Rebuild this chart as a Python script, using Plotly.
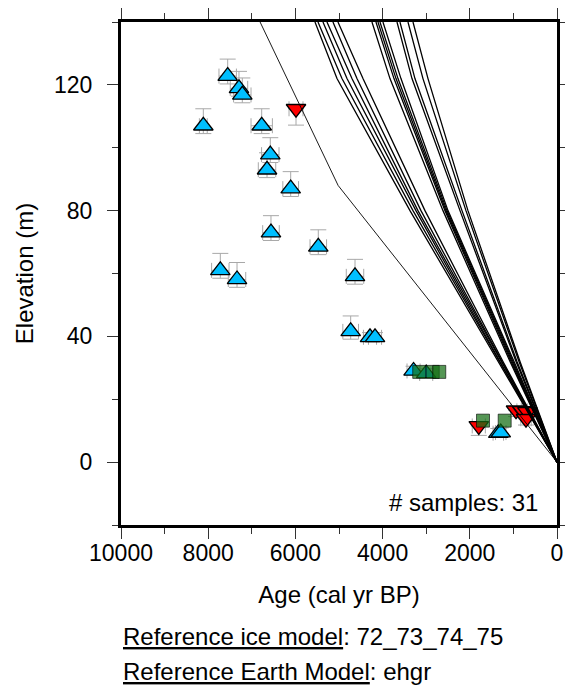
import plotly.graph_objects as go

# sea-level index points
blue_age = [7553, 7294, 7218, 8112, 6773, 6576, 6651, 6108, 6560, 5475,
            7722, 7339, 4633, 4732, 4289, 4174, 3290, 3000, 1346, 1290]
blue_elev = [122.8, 118.9, 116.8, 107.0, 107.0, 97.8, 93.0, 87.0, 73.0, 68.5,
             61.0, 58.1, 59.1, 41.6, 39.7, 39.7, 29.0, 28.2, 9.2, 9.4]
blue_err_up = [5.4, 5.4, 5.4, 5.4, 5.4, 5.4, 5.4, 5.4, 5.4, 5.4,
               5.4, 5.4, 5.4, 4.9, 1.5, 1.5, 1.5, 1.5, 1.5, 1.5]
blue_err_down = [2.5, 2.5, 2.5, 2.5, 2.5, 2.5, 2.5, 2.5, 2.5, 2.5,
                 2.5, 2.5, 2.5, 2.5, 1.0, 1.0, 1.0, 1.0, 1.0, 1.0]
blue_age_err = [200, 200, 200, 90, 245, 200, 200, 180, 190, 190,
                200, 200, 200, 180, 150, 150, 150, 150, 120, 120]

red_age = [5986, 1794, 940, 800, 680, 711]
red_elev = [112.4, 11.5, 16.5, 16.3, 16.0, 13.8]
red_err_down = [5.2, 3.0, 2.0, 2.0, 2.0, 2.0]
red_age_err = [160, 150, 120, 120, 120, 120]

green_age = [3160, 2850, 2700, 1697, 1200]
green_elev = [28.7, 28.7, 28.7, 13.2, 13.2]

# predicted relative sea-level curves
curve_elev = [140, 122, 80, 32, 0]
curve_ages = [
    [5551, 5046, 3372, 1353, 0],
    [5482, 4932, 3303, 1330, 0],
    [5368, 4817, 3235, 1308, 0],
    [5276, 4703, 3189, 1285, 0],
    [5139, 4588, 3120, 1262, 0],
    [5024, 4450, 3028, 1239, 0],
    [4244, 3831, 2615, 1078, 0],
    [4152, 3739, 2569, 1055, 0],
    [4106, 3693, 2546, 1032, 0],
    [4060, 3647, 2523, 1009, 0],
    [3992, 3579, 2500, 986, 0],
    [3670, 3326, 2225, 940, 0],
    [3602, 3258, 2179, 918, 0],
    [3418, 3074, 2088, 872, 0],
    [3303, 2959, 2042, 849, 0],
]
ref_elev = [140, 88, 0]
ref_age = [6810, 5020, 0]

n_samples = len(blue_age) + len(red_age) + len(green_age)

FONT = "Liberation Sans, Arial, Helvetica, sans-serif"
GRAY = "#a8a8a8"

fig = go.Figure()

fig.add_trace(go.Scatter(
    x=blue_age, y=blue_elev, mode="markers",
    marker=dict(symbol="triangle-up", size=17, color="#00bfff",
                line=dict(color="black", width=1.3)),
    error_y=dict(type="data", array=blue_err_up, arrayminus=blue_err_down,
                 color=GRAY, thickness=1, width=8),
    error_x=dict(type="data", array=blue_age_err, color=GRAY, thickness=1, width=7.5),
))
fig.add_trace(go.Scatter(
    x=red_age, y=red_elev, mode="markers",
    marker=dict(symbol="triangle-down", size=17, color="#ff0000",
                line=dict(color="black", width=1.3)),
    error_y=dict(type="data", array=[0] * len(red_age), arrayminus=red_err_down,
                 color=GRAY, thickness=1, width=8),
    error_x=dict(type="data", array=red_age_err, color=GRAY, thickness=1, width=7.5),
))
fig.add_trace(go.Scatter(
    x=green_age, y=green_elev, mode="markers",
    marker=dict(symbol="square", size=13, color="rgba(20,110,20,0.72)",
                line=dict(color="rgba(0,0,0,0.6)", width=1)),
))

for ages in curve_ages:
    fig.add_trace(go.Scatter(x=ages, y=curve_elev, mode="lines",
                             line=dict(color="black", width=1.3)))
fig.add_trace(go.Scatter(x=ref_age, y=ref_elev, mode="lines",
                         line=dict(color="black", width=0.9)))

axis_common = dict(
    showline=True, linewidth=3, linecolor="black", mirror="ticks",
    ticks="outside", ticklen=11, tickwidth=1.3, tickcolor="#333",
    showgrid=False, zeroline=False, automargin=False, tickformat="d",
    tickfont=dict(family=FONT, size=23, color="black"),
)

fig.update_xaxes(
    range=[10000, 0], dtick=2000, tick0=0, ticklabelstandoff=-6,
    minor=dict(dtick=1000, ticks="outside", ticklen=6, tickwidth=1.3, tickcolor="#333"),
    title=dict(text="Age (cal yr BP)", font=dict(family=FONT, size=24, color="black"),
               standoff=22),
    **axis_common,
)
fig.update_yaxes(
    range=[-20, 140], dtick=40, tick0=0, ticklabelstandoff=10,
    minor=dict(dtick=20, ticks="outside", ticklen=6, tickwidth=1.3, tickcolor="#333"),
    title=dict(text="Elevation (m)", font=dict(family=FONT, size=24, color="black"),
               standoff=14),
    **axis_common,
)

fig.add_annotation(
    x=0.961, y=-13, xref="paper", yref="y", xanchor="right", yanchor="middle",
    text=f"# samples: {n_samples}", showarrow=False,
    font=dict(family=FONT, size=24, color="black"),
)
fig.add_annotation(
    x=0, y=-0.222, xref="paper", yref="paper", xanchor="left", yanchor="middle",
    text="<u>Reference ice model</u>: 72_73_74_75", showarrow=False,
    font=dict(family=FONT, size=24, color="black"),
)
fig.add_annotation(
    x=0, y=-0.292, xref="paper", yref="paper", xanchor="left", yanchor="middle",
    text="<u>Reference Earth Model</u>: ehgr", showarrow=False,
    font=dict(family=FONT, size=24, color="black"),
)

# the page body adds an 8px offset, so margins are shifted to compensate
fig.update_layout(
    width=573, height=698,
    margin=dict(l=113, r=24, t=14, b=181),
    paper_bgcolor="white", plot_bgcolor="white",
    showlegend=False,
)

fig.write_html("out.html")
